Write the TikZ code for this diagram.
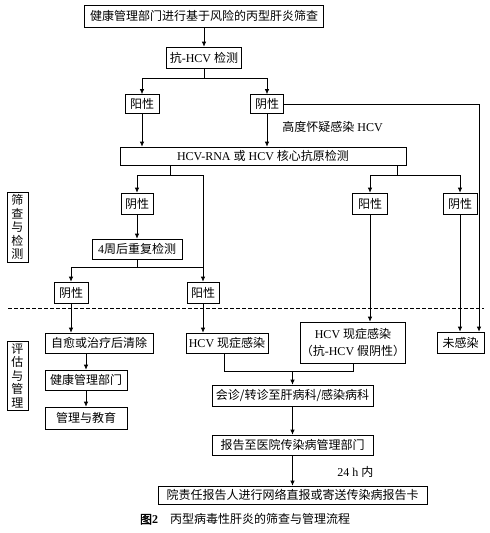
\documentclass[tikz,border=0pt]{standalone}
\usepackage{fontspec}
\setmainfont{Noto Sans CJK SC}[AutoFakeBold=2]
\newfontfamily\lat{Liberation Serif}
\usepackage{tikz}
\usetikzlibrary{
  calc,%
  % bigger arrow tips
  arrows.meta,%
  positioning
}
\tikzset{>={Latex[length=5pt,width=4.5pt]}}
\tikzset{font=\fontsize{12}{13.5}\selectfont}
\tikzset{box/.style={draw, inner sep=0pt, minimum height=20pt},
  divider/.style={dash pattern=on 4pt off 2pt}}

\begin{document}
\begin{tikzpicture}[x=1pt, y=-1pt, line width=0.7pt]
          \useasboundingbox (0,0) rectangle (490,533);
          % screening and testing
          \node[box, minimum width=239, minimum height=22] (screen) at (204,16) {健康管理部门进行基于风险的丙型肝炎筛查};
          \node[box, minimum width=75, minimum height=21] (anti) at (204,57.5) {抗{\lat -HCV }检测};
          \node[box, minimum width=34, minimum height=19] (posA) at (142,104) {阳性};
          \node[box, minimum width=33, minimum height=19] (negA) at (267,104) {阴性};
          \node[anchor=west, inner sep=1pt] (suspect) at (281,127) {高度怀疑感染{\lat\ HCV}};
          \node[box, minimum width=286, minimum height=18] (rna) at (263,156) {{\lat HCV-RNA }或{\lat\ HCV }核心抗原检测};
          \node[box, minimum width=32, minimum height=21] (negB) at (137,203.5) {阴性};
          \node[box, minimum width=35, minimum height=21] (posD) at (370,203.5) {阳性};
          \node[box, minimum width=34, minimum height=21] (negD) at (460,203.5) {阴性};
          \node[box, minimum width=90, minimum height=20] (repeat) at (137,249) {{\lat 4}周后重复检测};
          \node[box, minimum width=34, minimum height=21] (negC) at (71,292.5) {阴性};
          \node[box, minimum width=32, minimum height=21] (posC) at (203,292.5) {阳性};
          \node[box, minimum width=21, minimum height=70, align=center] (stageA) at (17.5,227) {筛\\查\\与\\检\\测};
          \draw[divider] (8,308) -- (484,308);
          % assessment and management
          \node[box, minimum width=21, minimum height=69, align=center] (stageB) at (17.5,375.5) {评\\估\\与\\管\\理};
          \node[box, minimum width=108, minimum height=20] (clear) at (99,343) {自愈或治疗后清除};
          \node[box, minimum width=82, minimum height=20] (health) at (86,380) {健康管理部门};
          \node[box, minimum width=82, minimum height=22] (educate) at (86,418) {管理与教育};
          \node[box, minimum width=82, minimum height=20] (curA) at (227,343) {{\lat HCV }现症感染};
          \node[box, minimum width=100, minimum height=41, align=center] (curB) at (353,342.5) {{\lat HCV }现症感染\\[3pt]（抗{\lat -HCV }假阴性）};
          \node[box, minimum width=47, minimum height=21] (none) at (460.5,342.5) {未感染};
          \node[box, minimum width=161, minimum height=21] (consult) at (292.5,395.5) {会诊/转诊至肝病科/感染病科};
          \node[box, minimum width=161, minimum height=20] (report) at (292.5,445) {报告至医院传染病管理部门};
          \node[box, minimum width=269, minimum height=18] (card) at (292.5,495) {院责任报告人进行网络直报或寄送传染病报告卡};
          \node[anchor=west, inner sep=1pt] (within) at (336,472) {{\lat 24 h }内};
          \node (caption) at (245,519) {{\bfseries 图{\lat 2}}\quad 丙型病毒性肝炎的筛查与管理流程};
          % connectors
          \coordinate (rline) at (479,104);
          \coordinate (jleft) at (170,175);
          \coordinate (jright) at (397,175);
          \coordinate (jmerge) at (292.5,371);
          \draw[->] (screen) -- (anti);
          \draw (anti.south) -- ++(0,10) coordinate (jtop);
          \draw[->] (jtop) -| (posA);
          \draw[->] (jtop) -| (negA);
          \draw[->] (posA) -- (posA |- rna.north);
          \draw[->] (negA) -- (negA |- rna.north);
          \draw[->] (negA.east) -- (rline) -- (rline |- none.north);
          \draw (rna.south -| jleft) -- (jleft);
          \draw[->] (jleft) -| (negB);
          \draw[->] (jleft) -| (posC);
          \draw (rna.south -| jright) -- (jright);
          \draw[->] (jright) -| (posD);
          \draw[->] (jright) -| (negD);
          \draw[->] (negB) -- (repeat);
          \draw (repeat.south) -- ++(0,8) coordinate (jrep);
          \draw[->] (jrep) -| (negC);
          \draw (jrep) -- (jrep -| posC);
          \draw[->] (posD) -- (posD |- curB.north);
          \draw[->] (negD) -- (negD |- none.north);
          \draw[->] (negC) -- (negC |- clear.north);
          \draw[->] (posC) -- (posC |- curA.north);
          \draw[->] (clear.south -| health) -- (health);
          \draw[->] (health) -- (educate);
          \draw ([xshift=-3pt]curA.south) |- (jmerge -| curB.south) -- (curB.south);
          \draw[->] (jmerge) -- (consult);
          \draw[->] (consult) -- (report);
          \draw[->] (report) -- (card);
        \end{tikzpicture}
\end{document}
